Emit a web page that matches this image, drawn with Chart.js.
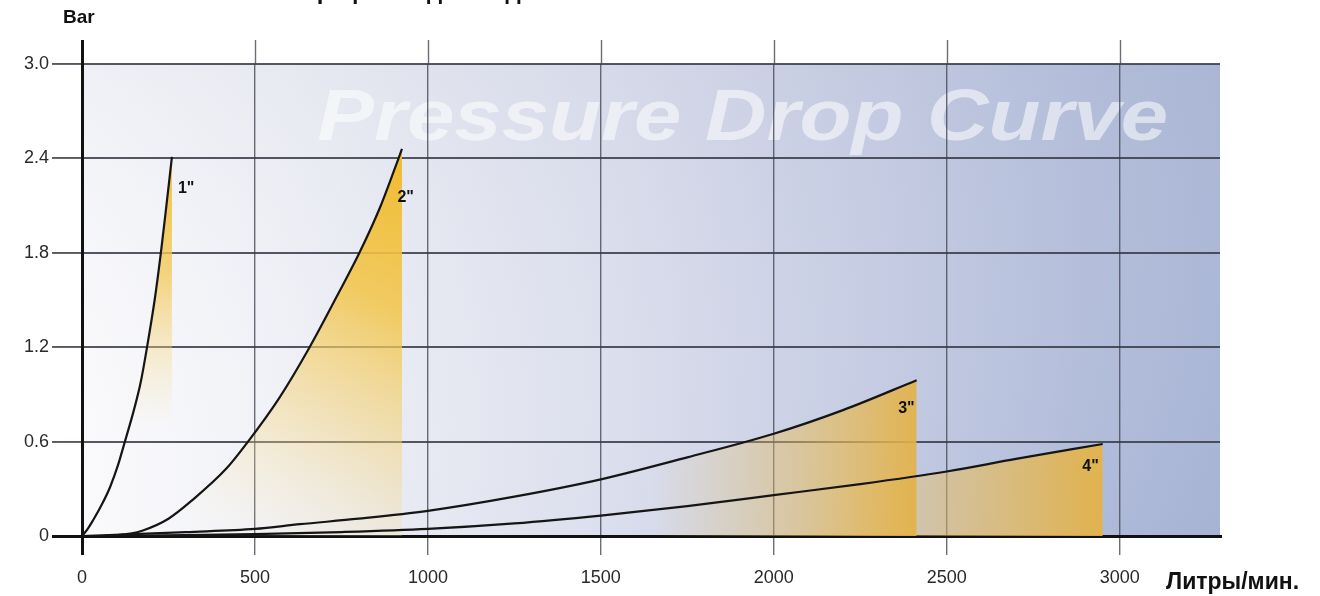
<!DOCTYPE html>
<html><head><meta charset="utf-8">
<script src="https://cdn.jsdelivr.net/npm/chart.js@4.4.0/dist/chart.umd.min.js"></script>
<style>html,body{margin:0;padding:0;background:#fff;overflow:hidden}#wrap{width:1320px;height:596px;position:relative}</style>
</head><body><div id="wrap"><canvas id="c" width="1320" height="596"></canvas></div>
<script>
// ---- data ----
const xTicks = [0, 500, 1000, 1500, 2000, 2500, 3000];
const yTicks = [0, 0.6, 1.2, 1.8, 2.4, 3.0];
const yTickLabels = ['0', '0.6', '1.2', '1.8', '2.4', '3.0'];
const seriesNames = ['1"', '2"', '3"', '4"'];
const q1 = [0, 15, 32, 55, 81, 104, 124, 150, 170, 188, 210, 228, 244, 260];
const p1 = [0, 0.04, 0.1, 0.19, 0.31, 0.45, 0.6, 0.8, 0.98, 1.2, 1.5, 1.8, 2.1, 2.41];
const q2 = [0, 60, 100, 140, 176, 250, 320, 418, 480, 571, 658, 736, 802, 860, 905, 925];
const p2 = [0, 0, 0.005, 0.015, 0.035, 0.11, 0.23, 0.43, 0.6, 0.88, 1.2, 1.52, 1.8, 2.08, 2.34, 2.46];
const q3 = [0, 130, 300, 500, 630, 800, 1000, 1250, 1500, 1750, 2000, 2200, 2413];
const p3 = [0, 0.01, 0.025, 0.045, 0.075, 0.11, 0.16, 0.25, 0.36, 0.5, 0.65, 0.8, 0.99];
const q4 = [0, 300, 500, 750, 1000, 1250, 1500, 1750, 2000, 2250, 2500, 2700, 2951];
const p4 = [0, 0.005, 0.012, 0.025, 0.045, 0.08, 0.13, 0.19, 0.26, 0.33, 0.41, 0.49, 0.585];
const xMax = 3290, yMax = 3.0;
const chartTitle = 'График падения давления';
const bgTitle = 'Pressure Drop Curve';
const yAxisTitle = 'Bar';
const xAxisTitle = 'Литры/мин.';

const pts = (q, p) => q.map((v, i) => ({x: v, y: p[i]}));

// ---- fill styles ----
function fill1(ctx) {
  const ch = ctx.chart; if (!ch.chartArea) return 'rgba(0,0,0,0)';
  const y = ch.scales.y;
  const g = ch.ctx.createLinearGradient(0, y.getPixelForValue(2.45), 0, y.getPixelForValue(0.7));
  g.addColorStop(0, 'rgba(242,190,55,1)');
  g.addColorStop(0.45, 'rgba(244,200,85,0.75)');
  g.addColorStop(1, 'rgba(248,225,160,0)');
  return g;
}
function fill2(ctx) {
  const ch = ctx.chart; if (!ch.chartArea) return 'rgba(0,0,0,0)';
  const x = ch.scales.x, y = ch.scales.y;
  const g = ch.ctx.createLinearGradient(x.getPixelForValue(930), y.getPixelForValue(2.5), x.getPixelForValue(380), y.getPixelForValue(0));
  g.addColorStop(0, 'rgba(240,186,45,1)');
  g.addColorStop(0.35, 'rgba(242,196,70,0.85)');
  g.addColorStop(0.7, 'rgba(246,214,130,0.4)');
  g.addColorStop(1, 'rgba(250,232,190,0)');
  return g;
}
function fillH(from, to, a0, a1) {
  return function (ctx) {
    const ch = ctx.chart; if (!ch.chartArea) return 'rgba(0,0,0,0)';
    const x = ch.scales.x;
    const g = ch.ctx.createLinearGradient(x.getPixelForValue(from), 0, x.getPixelForValue(to), 0);
    g.addColorStop(0, 'rgba(236,195,100,0)');
    g.addColorStop(0.5, 'rgba(232,188,90,' + a0 + ')');
    g.addColorStop(1, 'rgba(228,178,70,' + a1 + ')');
    return g;
  };
}

const lineCol = '#151515';
const mk = (label, q, p, bg) => ({
  label, data: pts(q, p), borderColor: lineCol, borderWidth: 2.2, pointRadius: 0,
  cubicInterpolationMode: 'monotone', fill: 'origin', backgroundColor: bg
});

// ---- plugins ----
const bgPlugin = {
  id: 'bgPlugin',
  beforeDraw(chart) {
    const {ctx, chartArea: a} = chart;
    ctx.save();
    const g = ctx.createLinearGradient(a.left, 0, a.right, 0);
    g.addColorStop(0, '#fafafc');
    g.addColorStop(0.17, '#f1f2f7');
    g.addColorStop(0.45, '#dcdfed');
    g.addColorStop(0.7, '#c3cae2');
    g.addColorStop(0.88, '#b0bbd9');
    g.addColorStop(1, '#a6b3d4');
    ctx.fillStyle = g;
    ctx.fillRect(a.left, a.top, a.right - a.left, a.bottom - a.top);
    const v = ctx.createLinearGradient(0, a.top, 0, a.bottom);
    v.addColorStop(0, 'rgba(190,196,215,0.18)');
    v.addColorStop(1, 'rgba(255,255,255,0)');
    ctx.fillStyle = v;
    ctx.fillRect(a.left, a.top, a.right - a.left, a.bottom - a.top);
    // background title
    ctx.font = 'italic bold 72px "Liberation Sans", Arial, sans-serif';
    ctx.fillStyle = 'rgba(255,255,255,0.55)';
    ctx.textBaseline = 'alphabetic';
    ctx.textAlign = 'left';
    const w = ctx.measureText(bgTitle).width;
    const x0 = chart.scales.x.getPixelForValue(680), x1 = chart.scales.x.getPixelForValue(3140);
    ctx.translate(x0, chart.scales.y.getPixelForValue(2.52));
    ctx.scale((x1 - x0) / w, 1);
    ctx.fillText(bgTitle, 0, 0);
    ctx.restore();
  },
  afterDraw(chart) {
    const {ctx, chartArea: a} = chart;
    const xs = chart.scales.x, ys = chart.scales.y;
    ctx.save();
    // grid extension above plot
    xTicks.forEach(v => {
      const px = Math.round(xs.getPixelForValue(v)) + 0.5;
      ctx.beginPath();
      ctx.strokeStyle = v === 0 ? '#111' : 'rgba(70,72,85,0.8)';
      ctx.lineWidth = v === 0 ? 3 : 1.4;
      ctx.moveTo(px, a.top - 24); ctx.lineTo(px, a.top);
      ctx.stroke();
    });
    // axis titles
    ctx.fillStyle = '#111';
    ctx.textAlign = 'left';
    ctx.textBaseline = 'alphabetic';
    ctx.font = 'bold 19px "Liberation Sans", Arial, sans-serif';
    ctx.fillText(yAxisTitle, 63, 23);
    ctx.font = 'bold 23px "Liberation Sans Narrow", "Liberation Sans", Arial, sans-serif';
    ctx.fillText(xAxisTitle, 1166, 589, 144);
    // cut-off top title
    ctx.font = 'bold 24px "Liberation Sans", Arial, sans-serif';
    ctx.textAlign = 'center';
    ctx.fillText(chartTitle, 462, -1);
    // curve labels
    ctx.font = 'bold 16px "Liberation Sans", Arial, sans-serif';
    const sets = [[q1, p1, 6, 36, 'left'], [q2, p2, 12, 53, 'right'], [q3, p3, -2, 33, 'right'], [q4, p4, -4, 27, 'right']];
    sets.forEach((s, i) => {
      const q = s[0], p = s[1];
      const px = xs.getPixelForValue(q[q.length - 1]), py = ys.getPixelForValue(p[p.length - 1]);
      ctx.textAlign = s[4];
      ctx.fillText(seriesNames[i], px + s[2], py + s[3]);
    });
    ctx.restore();
  }
};

const tickFont = {family: '"Liberation Sans", Arial, sans-serif', size: 18};
const gridCol = c => (c.tick && c.tick.value === 0) ? '#111' : 'rgba(70,72,85,0.8)';

new Chart(document.getElementById('c'), {
  type: 'line',
  data: {datasets: [
    mk(seriesNames[0], q1, p1, fill1),
    mk(seriesNames[1], q2, p2, fill2),
    mk(seriesNames[2], q3, p3, fillH(1650, 2413, 0.45, 0.92)),
    mk(seriesNames[3], q4, p4, fillH(2120, 2951, 0.55, 0.95))
  ]},
  options: {
    responsive: false, animation: false, devicePixelRatio: 1,
    layout: {padding: {top: 64, right: 100, left: 0, bottom: 0}},
    plugins: {legend: {display: false}, tooltip: {enabled: false}, filler: {drawTime: 'beforeDatasetsDraw'}},
    scales: {
      x: {
        type: 'linear', min: 0, max: xMax, z: 1,
        afterBuildTicks: s => { s.ticks = xTicks.map(v => ({value: v})); },
        afterFit: s => { s.height = 60; },
        ticks: {font: tickFont, color: '#2a2a2a', padding: 12, maxRotation: 0, autoSkip: false, callback: v => String(v)},
        grid: {color: gridCol, lineWidth: c => (c.tick && c.tick.value === 0) ? 3 : 1.4, tickLength: 19, drawTicks: true},
        border: {display: true, color: '#111', width: 3}
      },
      y: {
        type: 'linear', min: 0, max: yMax, z: 1,
        afterBuildTicks: s => { s.ticks = yTicks.map(v => ({value: v})); },
        afterFit: s => { s.width = 82; },
        ticks: {font: tickFont, color: '#2a2a2a', padding: 3, callback: (v, i) => yTickLabels[i]},
        grid: {color: c => (c.tick && c.tick.value === 0) ? '#111' : 'rgba(55,57,70,0.85)', lineWidth: c => (c.tick && c.tick.value === 0) ? 3 : 1.9, tickLength: 30, drawTicks: true},
        border: {display: true, color: '#111', width: 3}
      }
    }
  },
  plugins: [bgPlugin]
});
</script>
</body></html>
